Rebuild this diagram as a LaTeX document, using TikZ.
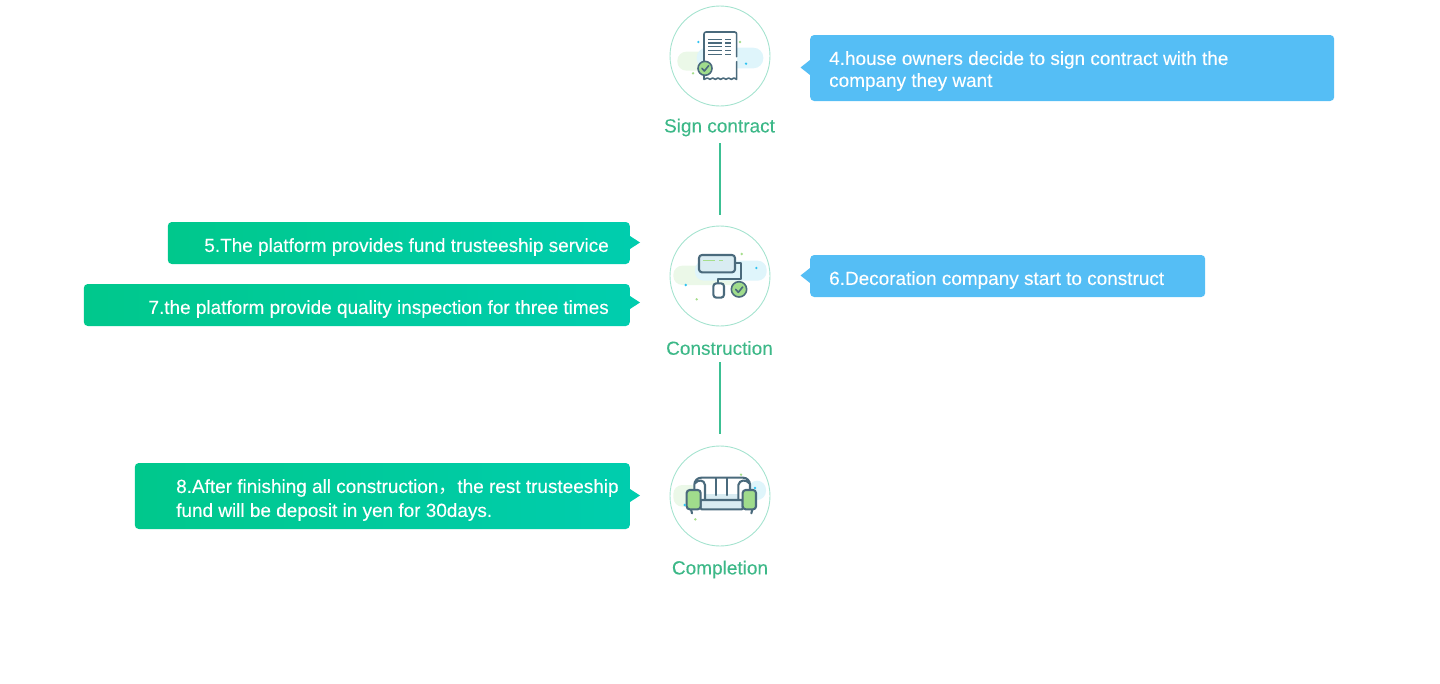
\documentclass[tikz,border=0pt]{standalone}
\usepackage{fontspec}
\setmainfont{Liberation Sans}
\newfontfamily\medf{Liberation Sans}[FakeBold=0.1]
\newfontfamily\cjkf{Noto Sans CJK SC}
\definecolor{ink}{HTML}{4A6A7C}
\definecolor{ringc}{HTML}{A5E3CF}
\definecolor{labc}{HTML}{3DB888}
\definecolor{linec}{HTML}{3CC093}
\definecolor{blueb}{HTML}{55BEF5}
\definecolor{gl}{HTML}{00C88C}
\definecolor{gr}{HTML}{00CDAE}
\definecolor{blobg}{HTML}{EBF8E8}
\definecolor{blobb}{HTML}{DFF5FB}
\definecolor{chk}{HTML}{A0DC8C}
\definecolor{pale}{HTML}{D9ECF2}
\definecolor{dotb}{HTML}{2FC3F2}
\definecolor{dotg}{HTML}{A6DE8C}
\tikzset{
 ring/.style={circle,draw=ringc,line width=0.9pt,minimum size=100pt,inner sep=0pt},
 steplabel/.style={text=labc,font=\fontsize{19}{20}\selectfont\medf,inner sep=0pt,minimum height=20pt},
 conn/.style={draw=linec,line width=1.7pt},
 boxg/.style={rounded corners=4pt,left color=gl,right color=gr,inner sep=0pt,anchor=east},
 boxb/.style={rounded corners=4pt,fill=blueb,inner sep=0pt,anchor=west},
 txt/.style={text=white,font=\fontsize{18.95}{22}\selectfont\medf,inner sep=0pt,align=left},
 icon/.style={draw=ink,line width=2.1pt,line join=round,line cap=round},
 iconthin/.style={draw=ink,line width=1.3pt},
 icons/.style={x=0.33333pt,y=-0.33333pt},
}
\newcommand{\dotat}[3]{\fill[#1] (#2,#3) circle (4);}
\begin{document}
\begin{tikzpicture}[x=1pt,y=-1pt]
\useasboundingbox (0,0) rectangle (1440,683);
% rings and labels
\node[ring] (c1) at (720,56) {};
\node[ring] (c2) at (720,276) {};
\node[ring] (c3) at (720,496) {};
\node[steplabel] (l1) at (719.5,127.5) {Sign contract};
\node[steplabel] (l2) at (719.5,348) {Construction};
\node[steplabel] (l3) at (720,569.5) {Completion};
\draw[conn,shorten <=5.5pt,shorten >=11pt] (l1.south -| c2.north) -- (c2.north);
\draw[conn,shorten <=4pt,shorten >=12pt] (l2.south -| c3.north) -- (c3.north);
% bubbles
\fill[blueb] (810,60) -- (800.5,67.5) -- (810,75) -- cycle;
\node[boxb,minimum width=524pt,minimum height=66pt] (b4) at (810,68) {};
\node[txt,anchor=west] (t4) at (829,71) {4.house owners decide to sign contract with the\\company they want};
\fill[gr] (630,236) -- (640,242.5) -- (630,249) -- cycle;
\node[boxg,minimum width=462pt,minimum height=42pt] (b5) at (630,243) {};
\node[txt,anchor=east] (t5) at (609,247) {5.The platform provides fund trusteeship service};
\fill[blueb] (810,268) -- (800.5,275.5) -- (810,283) -- cycle;
\node[boxb,minimum width=395pt,minimum height=42pt] (b6) at (810,276) {};
\node[txt,anchor=west] (t6) at (829,280) {6.Decoration company start to construct};
\fill[gr] (630,296) -- (640,302.5) -- (630,309) -- cycle;
\node[boxg,minimum width=546pt,minimum height=42pt] (b7) at (630,305) {};
\node[txt,anchor=east] (t7) at (609,309) {7.the platform provide quality inspection for three times};
\fill[gr] (630,489) -- (640,495.5) -- (630,502) -- cycle;
\node[boxg,minimum width=495pt,minimum height=66pt] (b8) at (630,496) {};
\node[txt,anchor=west,font=\fontsize{18.95}{24}\selectfont\medf] (t8) at (176,500) {8.After finishing all construction{\cjkf，}the rest trusteeship\\fund will be deposit in yen for 30days.};
% icon 1
\begin{scope}[shift={(660,0)},icons]
\fill[blobg,rounded corners=9pt] (52,155) rectangle (200,212);
\fill[blobb,rounded corners=10pt] (110,143) rectangle (310,205);
\fill[white] (132,100) rectangle (230,236);
\draw[icon,line width=1.6pt,rounded corners=2pt] (132,190) -- (132,96) -- (230,96) -- (230,170);
\draw[icon,line width=1.6pt] (230,185) -- (230,238) -- (222,234) -- (214,238) -- (206,234) -- (198,238) -- (190,234) -- (182,238) -- (174,234) -- (166,238) -- (158,234) -- (150,238) -- (142,234) -- (132,238) -- (132,222);
\foreach \yy in {118,129,140,151,163}{
 \draw[iconthin] (144,\yy) -- (185,\yy);
 \draw[iconthin] (195,\yy) -- (214,\yy);
}
\draw[icon,line width=1.6pt,fill=chk] (135,205) circle (21);
\draw[icon,line width=1.6pt] (126,205) -- (133,213) -- (146,197);
\dotat{dotb}{115}{126}\dotat{dotg}{240}{126}\dotat{dotb}{258}{191}\dotat{dotg}{99}{220}
\end{scope}
% icon 2
\begin{scope}[shift={(660,220)},icons]
\fill[blobg,rounded corners=9pt] (40,137) rectangle (250,195);
\fill[blobb,rounded corners=9pt] (105,122) rectangle (320,182);
\draw[icon,fill=pale,rounded corners=3pt] (117,105) rectangle (225,157);
\draw[dotg,line width=1.3pt] (130,122) -- (166,122) (177,122) -- (190,122);
\draw[icon] (225,130) -- (242,130) -- (242,178) -- (175,178) -- (175,190);
\draw[icon,fill=white,rounded corners=3pt] (160,190) rectangle (192,233);
\draw[icon,line width=1.6pt,fill=chk] (237,208) circle (23);
\draw[icon,line width=1.6pt] (227,208) -- (235,217) -- (248,201);
\dotat{dotg}{245}{102}\dotat{dotb}{289}{144}\dotat{dotb}{77}{195}\dotat{dotg}{110}{238}
\end{scope}
% icon 3
\begin{scope}[shift={(660,440)},icons]
\fill[blobg,rounded corners=9pt] (40,135) rectangle (120,200);
\fill[blobb,rounded corners=9pt] (265,122) rectangle (318,180);
\fill[white,rounded corners=7pt] (103,113) rectangle (270,180);
\fill[pale] (135,163) rectangle (235,180);
\draw[icon,rounded corners=7pt] (103,150) -- (103,113) -- (270,113) -- (270,150);
\draw[icon] (105,130) .. controls (113,118) and (133,118) .. (135,135) -- (135,180);
\draw[icon] (268,130) .. controls (260,118) and (238,118) .. (235,135) -- (235,180);
\draw[icon] (167,115) -- (167,165) (200,115) -- (200,165);
\draw[icon] (93,208) -- (96,220) (277,208) -- (274,220);
\draw[icon,fill=pale,rounded corners=1pt] (122,180) rectangle (248,208);
\draw[icon,fill=chk,rounded corners=3pt] (80,150) rectangle (122,208);
\draw[icon,fill=chk,rounded corners=3pt] (248,150) rectangle (288,208);
\dotat{dotg}{243}{104}\dotat{dotb}{285}{144}\dotat{dotb}{74}{195}\dotat{dotg}{106}{238}
\end{scope}
\end{tikzpicture}
\end{document}
